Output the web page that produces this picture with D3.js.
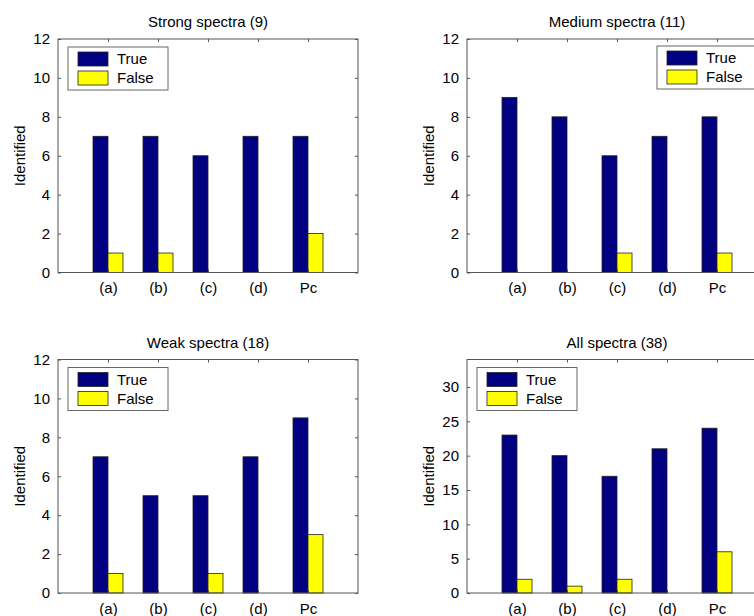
<!DOCTYPE html>
<html>
<head>
<meta charset="utf-8">
<script src="https://cdn.jsdelivr.net/npm/d3@7"></script>
<style>
  html, body { margin: 0; padding: 0; background: #fff; }
  svg { display: block; }
  text { font-family: "Liberation Sans", Arial, sans-serif; fill: #000; }
</style>
</head>
<body>
<svg id="chart" width="754" height="616"></svg>
<script>
// ---- data ----
const categories = ["(a)", "(b)", "(c)", "(d)", "Pc"];
const seriesNames = ["True", "False"];
const panelTitles = ["Strong spectra (9)", "Medium spectra (11)", "Weak spectra (18)", "All spectra (38)"];
const strongTrue = [7, 7, 6, 7, 7];
const strongFalse = [1, 1, 0, 0, 2];
const mediumTrue = [9, 8, 6, 7, 8];
const mediumFalse = [0, 0, 1, 0, 1];
const weakTrue = [7, 5, 5, 7, 9];
const weakFalse = [1, 0, 1, 0, 3];
const allTrue = [23, 20, 17, 21, 24];
const allFalse = [2, 1, 2, 0, 6];
const yMaxes = [12, 12, 12, 34];
const yTicksSmall = [0, 2, 4, 6, 8, 10, 12];
const yTicksAll = [0, 5, 10, 15, 20, 25, 30];
const yLabel = "Identified";

// ---- layout ----
const colors = ["#000080", "#ffff00"];
const axisColor = "#555";
const panels = [
  { title: panelTitles[0], t: strongTrue, f: strongFalse, ymax: yMaxes[0], ticks: yTicksSmall, left: 58, top: 39, bottom: 272.5, legend: "left" },
  { title: panelTitles[1], t: mediumTrue, f: mediumFalse, ymax: yMaxes[1], ticks: yTicksSmall, left: 467, top: 39, bottom: 272.5, legend: "right" },
  { title: panelTitles[2], t: weakTrue, f: weakFalse, ymax: yMaxes[2], ticks: yTicksSmall, left: 58, top: 359.5, bottom: 593, legend: "left" },
  { title: panelTitles[3], t: allTrue, f: allFalse, ymax: yMaxes[3], ticks: yTicksAll, left: 467, top: 359.5, bottom: 593, legend: "left" }
];
const plotW = 300;
const barUnits = 0.3;
const fontSize = 15;

const svg = d3.select("#chart");

panels.forEach(p => {
  const g = svg.append("g");
  const x = d3.scaleLinear().domain([0, categories.length + 1]).range([p.left, p.left + plotW]);
  const y = d3.scaleLinear().domain([0, p.ymax]).range([p.bottom, p.top]);
  const bw = x(barUnits) - x(0);
  const right = p.left + plotW;

  // bars
  const series = [p.t, p.f];
  series.forEach((vals, si) => {
    g.selectAll(null).data(vals).enter().append("rect")
      .attr("x", (d, i) => x(i + 1) + (si === 0 ? -bw : 0))
      .attr("y", d => y(d))
      .attr("width", bw)
      .attr("height", d => y(0) - y(d))
      .attr("fill", colors[si])
      .attr("stroke", "#222")
      .attr("stroke-width", 0.8);
  });

  // axes box
  g.append("rect")
    .attr("x", p.left).attr("y", p.top)
    .attr("width", plotW).attr("height", p.bottom - p.top)
    .attr("fill", "none").attr("stroke", axisColor).attr("stroke-width", 1);

  // left axis
  const yAxis = d3.axisLeft(y).tickValues(p.ticks).tickSize(-3).tickPadding(8).tickFormat(d3.format("d"));
  const ya = g.append("g").attr("transform", `translate(${p.left},0)`).call(yAxis);
  ya.select(".domain").remove();
  ya.selectAll("line").attr("stroke", axisColor);
  ya.selectAll("text").style("font-size", fontSize + "px").style("font-family", '"Liberation Sans", Arial, sans-serif');

  // right ticks
  const yAxisR = d3.axisRight(y).tickValues(p.ticks).tickSize(-3).tickFormat("");
  const yr = g.append("g").attr("transform", `translate(${right},0)`).call(yAxisR);
  yr.select(".domain").remove();
  yr.selectAll("line").attr("stroke", axisColor);

  // bottom axis
  const xAxis = d3.axisBottom(x).tickValues(d3.range(1, categories.length + 1)).tickSize(-3).tickPadding(10)
    .tickFormat(d => categories[d - 1]);
  const xa = g.append("g").attr("transform", `translate(0,${p.bottom})`).call(xAxis);
  xa.select(".domain").remove();
  xa.selectAll("line").attr("stroke", axisColor);
  xa.selectAll("text").style("font-size", fontSize + "px").style("font-family", '"Liberation Sans", Arial, sans-serif');

  // top ticks
  const xAxisT = d3.axisTop(x).tickValues(d3.range(1, categories.length + 1)).tickSize(-3).tickFormat("");
  const xt = g.append("g").attr("transform", `translate(0,${p.top})`).call(xAxisT);
  xt.select(".domain").remove();
  xt.selectAll("line").attr("stroke", axisColor);

  // title
  g.append("text")
    .attr("x", p.left + plotW / 2).attr("y", p.top - 12)
    .attr("text-anchor", "middle")
    .style("font-size", "15px")
    .text(p.title);

  // y label
  g.append("text")
    .attr("transform", `translate(${p.left - 33},${(p.top + p.bottom) / 2}) rotate(-90)`)
    .attr("text-anchor", "middle")
    .style("font-size", fontSize + "px")
    .text(yLabel);

  // legend
  const lw = 100, lh = 43;
  const lx = p.legend === "left" ? p.left + 10 : right - 10 - lw;
  const ly = p.top + (p.legend === "left" ? 8 : 7);
  const lg = g.append("g").attr("transform", `translate(${lx},${ly})`);
  lg.append("rect").attr("width", lw).attr("height", lh)
    .attr("fill", "#fff").attr("stroke", "#666").attr("stroke-width", 1);
  seriesNames.forEach((name, i) => {
    lg.append("rect")
      .attr("x", 10).attr("y", 5 + i * 19)
      .attr("width", 30).attr("height", 14)
      .attr("fill", colors[i]).attr("stroke", "#222").attr("stroke-width", 0.8);
    lg.append("text")
      .attr("x", 49).attr("y", 17 + i * 19)
      .style("font-size", fontSize + "px")
      .text(name);
  });
});
</script>
</body>
</html>
